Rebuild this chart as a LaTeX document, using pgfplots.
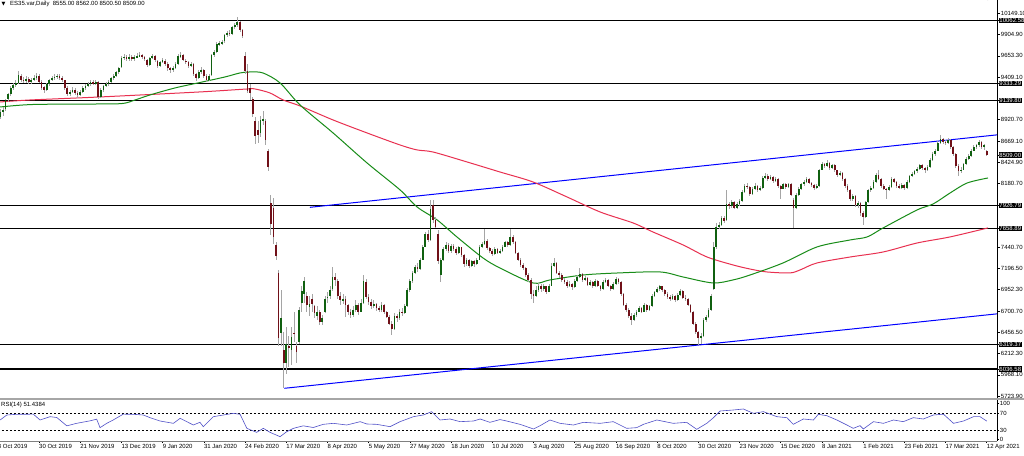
\documentclass[border=0pt]{standalone}
\usepackage{fontspec}
\setmainfont{Liberation Sans}
\newfontfamily\dejavu{DejaVu Sans}
\usepackage{pgfplots}
\usepackage{pgfplotstable}
\pgfplotsset{compat=1.18}
\definecolor{bull}{RGB}{16,96,16}
\definecolor{bear}{RGB}{112,16,24}
\definecolor{wick}{RGB}{165,165,165}
\definecolor{magreen}{RGB}{24,140,24}
\definecolor{mared}{RGB}{232,48,80}
\definecolor{rsiblue}{RGB}{80,80,200}

\pgfplotstableread{
n o h l c
1 8950 9040 8930 9006
2 9000 9060 8960 9029
3 9040 9160 9020 9144
4 9150 9230 9120 9213
5 9210 9300 9190 9283
6 9280 9340 9260 9317
7 9320 9370 9290 9340
8 9340 9480 9330 9433
9 9420 9440 9350 9375
10 9380 9410 9340 9364
11 9360 9420 9340 9387
12 9390 9410 9330 9352
13 9350 9400 9330 9375
14 9370 9430 9360 9398
15 9400 9450 9380 9421
16 9420 9440 9340 9352
17 9350 9370 9260 9283
18 9290 9310 9230 9260
19 9260 9340 9250 9329
20 9330 9390 9310 9375
21 9380 9420 9360 9398
22 9400 9440 9380 9410
23 9410 9450 9390 9421
24 9420 9440 9380 9398
25 9400 9420 9350 9375
26 9370 9380 9260 9283
27 9280 9300 9190 9213
28 9210 9260 9190 9236
29 9240 9290 9220 9260
30 9260 9280 9200 9225
31 9220 9250 9170 9202
32 9200 9260 9190 9236
33 9240 9300 9230 9283
34 9280 9330 9260 9306
35 9300 9350 9290 9329
36 9330 9370 9310 9352
37 9350 9380 9320 9340
38 9340 9380 9320 9352
39 9350 9360 9150 9179
40 9180 9280 9170 9260
41 9260 9320 9240 9306
42 9300 9350 9290 9329
43 9330 9370 9310 9352
44 9350 9410 9340 9398
45 9400 9440 9380 9421
46 9420 9480 9410 9467
47 9470 9530 9450 9514
48 9520 9650 9510 9629
49 9630 9680 9610 9641
50 9640 9660 9600 9629
51 9620 9670 9600 9641
52 9640 9660 9590 9618
53 9620 9660 9600 9641
54 9640 9690 9630 9652
55 9650 9700 9640 9664
56 9660 9680 9620 9641
57 9640 9650 9590 9618
58 9610 9620 9520 9548
59 9550 9640 9540 9629
60 9630 9680 9620 9652
61 9650 9660 9580 9606
62 9600 9610 9510 9537
63 9540 9600 9520 9583
64 9580 9630 9570 9606
65 9600 9620 9540 9560
66 9560 9580 9480 9514
67 9510 9530 9460 9491
68 9490 9540 9470 9514
69 9510 9580 9500 9560
70 9560 9680 9550 9652
71 9650 9700 9630 9664
72 9660 9670 9590 9606
73 9600 9620 9560 9583
74 9580 9600 9510 9537
75 9540 9580 9520 9560
76 9560 9570 9420 9445
77 9440 9460 9360 9398
78 9400 9490 9390 9467
79 9470 9520 9450 9491
80 9490 9500 9400 9421
81 9420 9440 9350 9375
82 9380 9440 9360 9421
83 9430 9680 9420 9664
84 9660 9720 9640 9698
85 9700 9810 9690 9791
86 9790 9830 9770 9802
87 9800 9840 9780 9814
88 9820 9910 9800 9895
89 9890 9940 9870 9918
90 9920 9950 9880 9907
91 9910 10000 9890 9987
92 9990 10030 9960 10010
93 10010 10103 9990 10045
94 10040 10060 9930 9953
95 9950 9970 9860 9884
96 9650 9700 9440 9483
97 9480 9560 9220 9250
98 9280 9330 9140 9220
99 9150 9180 8950 8985
100 8900 8950 8640 8723
101 8800 8900 8650 8740
102 8760 8960 8720 8910
103 8900 9020 8850 8930
104 8900 8930 8620 8680
105 8560 8580 8320 8375
106 7950 8050 7580 7710
107 7900 8010 7480 7560
108 7470 7500 7290 7340
109 7150 7180 6300 6390
110 6450 6950 6300 6630
111 6250 6460 5814 6107
112 6100 6520 5980 6330
113 6300 6420 6060 6274
114 6250 6520 6080 6400
115 6450 6700 6350 6443
116 6300 6350 6110 6230
117 6350 6750 6330 6717
118 6800 7000 6700 6942
119 6900 7100 6800 7050
120 6880 6920 6700 6780
121 6750 6880 6650 6790
122 6850 6900 6700 6790
123 6760 6780 6620 6680
124 6650 6760 6600 6700
125 6700 6720 6550 6580
126 6580 6660 6540 6620
127 6700 6880 6680 6850
128 6860 6930 6800 6870
129 6880 6990 6850 6950
130 6960 7216 6940 7100
131 7100 7150 7000 7060
132 7050 7070 6850 6880
133 6880 6920 6780 6830
134 6820 6900 6790 6850
135 6850 6880 6640 6770
136 6770 6790 6660 6700
137 6700 6730 6630 6660
138 6660 6760 6640 6720
139 6720 6830 6700 6780
140 6780 6800 6660 6700
141 6700 6850 6690 6800
142 6800 7123 6790 7050
143 7040 7070 6850 6870
144 6870 6900 6780 6810
145 6810 6840 6730 6760
146 6760 6830 6740 6790
147 6790 6800 6710 6740
148 6740 6760 6690 6720
149 6720 6810 6700 6780
150 6780 6790 6670 6690
151 6690 6710 6620 6640
152 6640 6660 6540 6560
153 6560 6590 6430 6500
154 6500 6680 6490 6650
155 6650 6670 6580 6620
156 6620 6730 6600 6700
157 6700 6740 6650 6680
158 6680 6790 6670 6760
159 6760 6970 6750 6950
160 6950 7080 6930 7050
161 7050 7170 7030 7150
162 7150 7240 7130 7210
163 7210 7260 7160 7190
164 7190 7320 7180 7300
165 7300 7470 7290 7450
166 7450 7620 7440 7600
167 7600 7640 7500 7530
168 7530 7989 7520 7880
169 7930 7990 7720 7760
170 7760 7790 7660 7680
171 7600 7640 7250 7280
172 7120 7320 7040 7300
173 7300 7440 7280 7420
174 7420 7500 7400 7470
175 7470 7490 7380 7400
176 7400 7480 7380 7460
177 7460 7480 7400 7420
178 7420 7440 7350 7380
179 7380 7460 7360 7440
180 7440 7450 7330 7350
181 7350 7370 7220 7250
182 7250 7320 7230 7300
183 7300 7310 7200 7230
184 7230 7300 7210 7280
185 7280 7300 7220 7250
186 7250 7320 7240 7300
187 7300 7470 7290 7450
188 7450 7500 7430 7480
189 7480 7654 7470 7520
190 7520 7540 7410 7430
191 7430 7450 7380 7400
192 7400 7420 7340 7360
193 7360 7440 7350 7420
194 7420 7430 7360 7380
195 7380 7420 7360 7400
196 7400 7470 7390 7450
197 7450 7520 7440 7500
198 7500 7520 7450 7470
199 7470 7650 7460 7560
200 7560 7580 7480 7500
201 7500 7510 7360 7380
202 7380 7390 7280 7300
203 7300 7320 7220 7240
204 7240 7260 7180 7200
205 7200 7220 7100 7120
206 7120 7140 7040 7060
207 7060 7090 6850 6900
208 6900 6950 6800 6880
209 6880 6990 6870 6950
210 6950 7030 6930 7000
211 7000 7020 6930 6960
212 6960 7020 6940 6990
213 6990 7000 6900 6930
214 6930 7020 6920 7000
215 7000 7260 6990 7230
216 7230 7319 7210 7260
217 7260 7270 7130 7150
218 7150 7170 7090 7120
219 7120 7140 7040 7060
220 7060 7090 7020 7040
221 7040 7060 6970 7000
222 7000 7050 6980 7020
223 7020 7030 6950 6980
224 6980 7070 6970 7050
225 7050 7120 7040 7100
226 7100 7200 7090 7130
227 7130 7140 7040 7060
228 7060 7110 7050 7090
229 7090 7100 6990 7010
230 7010 7060 6990 7040
231 7040 7050 6970 6990
232 6990 7070 6980 7050
233 7050 7060 6980 7000
234 7000 7010 6940 6960
235 6960 7060 6950 7040
236 7040 7090 7030 7060
237 7060 7070 6980 7000
238 7000 7010 6940 6960
239 6960 7040 6950 7020
240 7020 7100 7010 7080
241 7080 7090 7020 7040
242 7040 7050 6880 6900
243 6900 6910 6760 6780
244 6780 6800 6700 6720
245 6720 6740 6630 6650
246 6650 6680 6545 6600
247 6600 6680 6590 6660
248 6660 6720 6640 6700
249 6700 6760 6690 6740
250 6740 6750 6680 6700
251 6700 6800 6690 6780
252 6780 6790 6700 6720
253 6720 6780 6710 6760
254 6760 6900 6750 6880
255 6880 6940 6870 6920
256 6920 6980 6910 6960
257 6960 7010 6940 6990
258 6990 7000 6930 6950
259 6950 6960 6880 6900
260 6900 6920 6850 6870
261 6870 6890 6820 6840
262 6840 6900 6830 6880
263 6880 6890 6810 6830
264 6830 6910 6820 6890
265 6890 6960 6880 6940
266 6940 6950 6840 6860
267 6860 6890 6820 6850
268 6850 6860 6760 6780
269 6780 6790 6680 6700
270 6700 6710 6540 6560
271 6560 6580 6440 6460
272 6460 6480 6314 6390
273 6390 6450 6330 6420
274 6420 6620 6410 6600
275 6600 6660 6580 6640
276 6640 6740 6630 6720
277 6720 6900 6710 6880
278 6960 7500 6950 7450
279 7450 7720 7420 7680
280 7680 7740 7650 7700
281 7700 7800 7690 7780
282 7780 7800 7720 7750
283 7760 8100 7750 7940
284 7940 7960 7880 7920
285 7920 7990 7900 7960
286 7960 7980 7880 7900
287 7900 7960 7890 7940
288 7940 8000 7920 7980
289 7980 8100 7970 8080
290 8080 8170 8070 8150
291 8150 8180 8110 8140
292 8140 8150 8040 8060
293 8060 8140 8050 8120
294 8120 8180 8100 8150
295 8150 8160 8080 8100
296 8100 8150 8090 8130
297 8130 8260 8120 8240
298 8240 8300 8230 8270
299 8270 8290 8210 8230
300 8230 8280 8220 8250
301 8250 8260 8190 8210
302 8210 8250 8200 8230
303 8230 8240 8130 8150
304 8150 8160 8000 8120
305 8120 8190 8110 8170
306 8170 8180 8120 8140
307 8140 8190 8130 8170
308 8170 8180 8030 8050
309 7990 8010 7666 7900
310 7900 8070 7890 8050
311 8050 8140 8040 8120
312 8120 8190 8100 8170
313 8170 8220 8150 8200
314 8200 8250 8190 8230
315 8230 8240 8170 8190
316 8190 8200 8140 8160
317 8160 8170 8100 8130
318 8130 8170 8110 8150
319 8150 8350 8140 8340
320 8340 8430 8330 8400
321 8400 8420 8360 8380
322 8380 8450 8370 8420
323 8420 8430 8340 8360
324 8360 8410 8350 8390
325 8390 8400 8310 8330
326 8330 8340 8260 8280
327 8280 8320 8270 8300
328 8300 8310 8210 8230
329 8230 8240 8130 8150
330 8150 8170 8080 8100
331 8100 8110 7980 8000
332 8000 8060 7980 8040
333 8040 8050 7910 7930
334 7930 7980 7900 7950
335 7950 7960 7800 7840
336 7840 7860 7700 7790
337 7790 7980 7780 7960
338 7960 8120 7950 8100
339 8100 8150 8080 8130
340 8130 8220 8120 8200
341 8200 8300 8190 8280
342 8280 8336 8220 8230
343 8230 8240 8130 8150
344 8150 8170 8100 8120
345 8120 8130 8000 8100
346 8100 8160 8090 8140
347 8140 8250 8130 8230
348 8230 8240 8180 8200
349 8200 8210 8130 8150
350 8150 8170 8110 8130
351 8130 8180 8120 8160
352 8160 8170 8100 8130
353 8130 8220 8120 8200
354 8200 8280 8190 8260
355 8260 8310 8250 8290
356 8290 8340 8280 8320
357 8320 8370 8300 8350
358 8350 8410 8340 8390
359 8390 8400 8340 8360
360 8360 8370 8300 8330
361 8330 8390 8320 8370
362 8370 8470 8360 8450
363 8450 8540 8440 8520
364 8520 8580 8500 8560
365 8560 8670 8550 8650
366 8650 8740 8640 8690
367 8690 8710 8640 8660
368 8660 8680 8620 8650
369 8650 8700 8640 8680
370 8680 8690 8580 8600
371 8600 8610 8500 8520
372 8520 8530 8360 8380
373 8380 8400 8260 8320
374 8320 8370 8300 8340
375 8340 8420 8330 8400
376 8400 8480 8390 8460
377 8460 8520 8450 8500
378 8500 8580 8490 8560
379 8560 8620 8550 8600
380 8600 8640 8580 8620
381 8620 8680 8600 8660
382 8660 8670 8580 8600
383 8600 8640 8570 8620
384 8555 8562 8500.5 8509
}\candles

\pgfplotstableread{
n v
0.9 9063
13.7 9092
39.7 9098
48.6 9104
53.3 9144
59.1 9202
68.8 9283
78.5 9346
88.2 9410
94 9456
98 9468
103 9456
109.6 9341
117.4 9085
130.2 8763
143.4 8416
156.2 8105
162.8 7908
170.6 7758
178.3 7561
188.4 7319
195 7203
207.8 7030
214.4 7065
227.3 7122
240.5 7145
257.2 7157
266.1 7099
277.7 7030
285.5 7065
292.1 7122
304.9 7261
318.1 7446
331 7527
337.6 7562
343.8 7666
357 7874
363.2 7943
369.8 8070
376.4 8185
384.5 8243
}\greenma

\pgfplotstableread{
n v
0.9 9121
12.5 9144
39.7 9179
78.5 9237
96.8 9271
99.9 9271
105.7 9225
110.8 9144
117.4 9075
130.2 8913
143.4 8763
156.2 8624
162.8 8567
169 8543
182.2 8428
195 8312
207.8 8197
221 8024
233.9 7850
246.7 7723
254.4 7619
266.1 7469
275.4 7330
285.5 7238
292.1 7191
298.7 7157
307.6 7146
311.5 7180
318.1 7261
331 7330
343.8 7388
357 7492
369.8 7562
384.5 7666
}\redma

\pgfplotstableread{
n v
0.9 54
3.5 66
7.3 67.6
13.8 68
16.4 54
20.3 62
22.9 60
26.8 40
30.6 46
35.8 52
38.4 56
39.7 35.6
42.3 46
44.8 54
48.7 68
52.6 67.6
56.5 66
59.1 59.6
63 51.6
68.2 46
70.8 58
73.4 50
75.9 42
78.5 48.4
79.8 38
83.7 62
87.6 66
91.5 70
94.1 67.6
96.7 34
100.5 24.4
103.1 34
105.7 24.4
109.6 14
112.2 26
114.8 34
118.6 40
122.5 36
126.4 43.6
130.3 46
135.5 42
140.7 50
143.3 44.4
147.1 43.6
152.3 38
156.2 50
161.4 62
165.2 66
168.5 74
171.7 54
175.6 56.4
179.5 50
184.7 51.6
187.3 56.4
191.1 48.4
195 55
197.6 51.6
202.8 43.6
208 32.4
210.6 40.4
214.4 54
218.3 46
223.5 42
227.4 48.4
233.9 46
239 50
244.2 34
248.1 35.6
250.7 43.6
255.9 54
262.3 46
267.5 48.4
271.4 31.6
275.3 46
277.9 59.6
280.5 75.6
285.6 78
289.5 80.4
293.4 70
297.3 74
302.5 62
306.4 59.6
308.9 43.6
312.8 56.4
316.7 54
318.6 67.6
321.9 64.4
325.8 54
329.7 42
332.2 34
334.8 40.4
336.1 32.4
340 50
343.9 46
347.8 54
351.6 50
355.5 59.6
359.4 56.4
363.3 66
367.2 68
371.1 46
375 51.6
378.9 62
381.4 62
384 51.4384
}\rsi

\begin{document}
\begin{tikzpicture}
\useasboundingbox (0,0) rectangle (1024pt,455pt);
\fill[white] (0,0) rectangle (1024pt,455pt);
\begin{axis}[
  at={(-2.2pt,57pt)}, anchor=south west,
  width=999.2pt, height=386pt, scale only axis,
  xmin=0, xmax=388, ymin=5700.8, ymax=10160.6,
  axis x line=none, axis y line*=right,
  xtick=\empty,
  ytick={10149.10,9904.90,9653.30,9409.10,8920.70,8669.10,8424.90,8180.70,7440.70,7196.50,6952.30,6700.70,6456.50,6212.30,5968.10,5723.90},
  yticklabels={10149.10,9904.90,9653.30,9409.10,8920.70,8669.10,8424.90,8180.70,7440.70,7196.50,6952.30,6700.70,6456.50,6212.30,5968.10,5723.90},
  extra y ticks={10062.58,9333.29,9139.80,8509.00,7926.79,7658.89,6319.37,6036.58},
  extra y tick labels={10062.58,9333.29,9139.80,8509.00,7926.79,7658.89,6319.37,6036.58},
  extra y tick style={yticklabel style={fill=black, text=white, xshift=-1.5pt}},
  tick align=outside, major tick length=3pt,
  every tick/.style={black, line width=0.5pt},
  y axis line style={black, line width=0.6pt},
  yticklabel style={font=\fontsize{6}{7}\selectfont, anchor=west, inner sep=0.7pt},
  /pgf/number format/assume math mode=true,
]
% horizontal levels
\pgfplotsinvokeforeach{10062.58,9333.29,9139.80,7926.79,7658.89,6319.37,6036.58}{
  \addplot[black, line width=1.2pt, forget plot] coordinates {(0,#1) (388,#1)};
}
% trend lines
\addplot[blue, line width=1pt] coordinates {(121.2,7904) (388,8741)};
\addplot[blue, line width=1pt] coordinates {(111.3,5813) (388,6673)};
% moving averages
\addplot[mared, line width=1pt, smooth] table[x=n,y=v] {\redma};
\addplot[magreen, line width=1pt, smooth] table[x=n,y=v] {\greenma};
% wicks
\addplot[forget plot, draw=none, mark=none, error bars/.cd, y dir=both, y explicit, error mark=none,
  error bar style={draw=wick, line width=0.7pt}]
  table[x=n, y expr={(\thisrow{h}+\thisrow{l})/2}, y error expr={(\thisrow{h}-\thisrow{l})/2}] {\candles};
% bull bodies
\addplot[forget plot, draw=none, mark=none, error bars/.cd, y dir=both, y explicit, error mark=none,
  error bar style={draw=bull, line width=1.7pt}]
  table[x=n, y expr={(\thisrow{o}+\thisrow{c})/2}, y error expr={max(\thisrow{c}-\thisrow{o},0)/2}] {\candles};
% bear bodies
\addplot[forget plot, draw=none, mark=none, error bars/.cd, y dir=both, y explicit, error mark=none,
  error bar style={draw=bear, line width=1.7pt}]
  table[x=n, y expr={(\thisrow{o}+\thisrow{c})/2}, y error expr={max(\thisrow{o}-\thisrow{c},0)/2}] {\candles};
\end{axis}

\begin{axis}[
  at={(-2.2pt,14pt)}, anchor=south west,
  width=999.2pt, height=41pt, scale only axis,
  xmin=0, xmax=388, ymin=3.6, ymax=102,
  axis x line*=bottom, axis y line*=right,
  xtick={0,16,...,384},
  xticklabels={8 Oct 2019,30 Oct 2019,21 Nov 2019,13 Dec 2019,9 Jan 2020,31 Jan 2020,24 Feb 2020,17 Mar 2020,8 Apr 2020,5 May 2020,27 May 2020,18 Jun 2020,10 Jul 2020,3 Aug 2020,25 Aug 2020,16 Sep 2020,8 Oct 2020,30 Oct 2020,23 Nov 2020,15 Dec 2020,8 Jan 2021,1 Feb 2021,23 Feb 2021,17 Mar 2021,12 Apr 2021},
  ytick={8.4,30,70,94.7}, yticklabels={0,30,70,100},
  tick align=outside, major tick length=2pt,
  every tick/.style={black, line width=0.5pt},
  x axis line style={gray, line width=0.6pt},
  y axis line style={black, line width=0.6pt},
  xticklabel style={font=\fontsize{6}{7}\selectfont, anchor=north west, inner sep=0pt, yshift=-1pt},
  yticklabel style={font=\fontsize{6}{7}\selectfont, anchor=west, inner sep=0.7pt},
  /pgf/number format/assume math mode=true,
]
\addplot[black, line width=0.5pt, dash pattern=on 2pt off 2pt] coordinates {(0,70) (388,70)};
\addplot[black, line width=0.5pt, dash pattern=on 2pt off 2pt] coordinates {(0,30) (388,30)};
\addplot[rsiblue, line width=0.6pt] table[x=n,y=v] {\rsi};
\end{axis}

% frame lines
\draw[black, line width=0.6pt] (997pt,455pt) -- (997pt,443pt);
\draw[gray!70, line width=1.6pt] (0pt,56.2pt) -- (1024pt,56.2pt);
% header and panel caption
\node[anchor=west, inner sep=0pt] at (1.5pt,451pt) {\dejavu\fontsize{5}{6}\selectfont ▼};
\node[anchor=west, inner sep=0pt] at (10pt,451pt) {\fontsize{6}{7}\selectfont ES35.var,Daily\ \ 8555.00 8562.00 8500.50 8509.00};
\node[anchor=west, inner sep=0pt] at (1pt,50pt) {\fontsize{6}{7}\selectfont RSI(14) 51.4384};
\end{tikzpicture}
\end{document}
